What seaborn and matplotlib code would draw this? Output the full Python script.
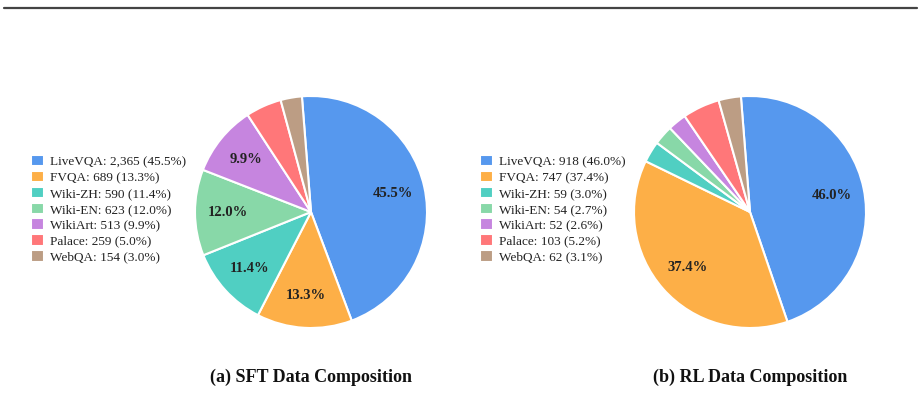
import matplotlib
matplotlib.use('Agg')
import matplotlib.pyplot as plt
import seaborn as sns
import numpy as np
from matplotlib.lines import Line2D

# Data
categories = ['LiveVQA', 'FVQA', 'Wiki-ZH', 'Wiki-EN', 'WikiArt', 'Palace', 'WebQA']
sft_counts = [2365, 689, 590, 623, 513, 259, 154]
sft_pcts = [45.5, 13.3, 11.4, 12.0, 9.9, 5.0, 3.0]
rl_counts = [918, 747, 59, 54, 52, 103, 62]
rl_pcts = [46.0, 37.4, 3.0, 2.7, 2.6, 5.2, 3.1]
titles = ['(a) SFT Data Composition', '(b) RL Data Composition']

colors = sns.color_palette(['#5698EE', '#FDAF47', '#50CFC2', '#88D8A8',
                            '#C685DF', '#FF7779', '#BC9D84'])

sns.set_theme(style='white')
plt.rcParams['font.family'] = ['Liberation Serif', 'DejaVu Serif']

W, H = 921, 419
fig = plt.figure(figsize=(W / 100, H / 100), dpi=100)

# top rule
fig.add_artist(Line2D([4 / W, 917 / W], [1 - 8 / H, 1 - 8 / H],
                      color='#444444', lw=1.6))

R = 116
panels = [
    (sft_counts, sft_pcts, 311, 212, 31, titles[0]),
    (rl_counts, rl_pcts, 750, 212, 480, titles[1]),
]

for counts, pcts, cx, cy, lx, title in panels:
    ax = fig.add_axes([(cx - R) / W, (H - cy - R) / H, 2 * R / W, 2 * R / H])
    wedges, _ = ax.pie(counts, colors=colors, startangle=94.5, counterclock=False,
                       wedgeprops=dict(edgecolor='white', linewidth=1.5))
    ax.set_xlim(-1, 1)
    ax.set_ylim(-1, 1)
    ax.set_aspect('auto')
    for w in wedges:
        w.set_clip_on(False)
    # percentage labels for the big slices
    for w, p in zip(wedges, pcts):
        if p < 6:
            continue
        ang = np.deg2rad((w.theta1 + w.theta2) / 2)
        ax.text(0.72 * np.cos(ang), 0.72 * np.sin(ang), f'{p:.1f}%',
                ha='center', va='center', fontsize=10.5, fontweight='bold',
                color='#222222')

    labels = [f'{c}: {n:,} ({p:.1f}%)' for c, n, p in zip(categories, counts, pcts)]
    fig.legend(wedges, labels, loc='upper left',
               bbox_to_anchor=(lx / W, 1 - 155 / H), frameon=False,
               fontsize=9.5, handlelength=0.95, handleheight=0.95,
               handletextpad=0.5, labelspacing=0.2, borderpad=0,
               borderaxespad=0, labelcolor='#222222')

    fig.text(cx / W, 1 - 377 / H, title, ha='center', va='center',
             fontsize=13, fontweight='bold', color='#111111')

fig.savefig('out.png', dpi=100)
